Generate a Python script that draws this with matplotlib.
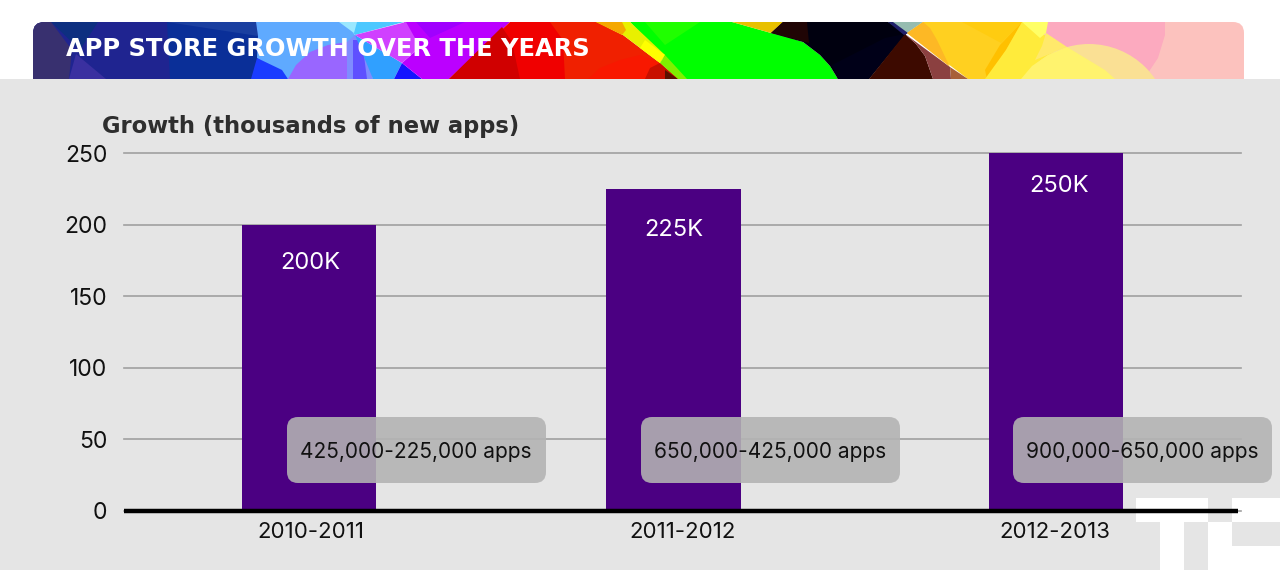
import matplotlib
matplotlib.use('Agg')
import matplotlib.pyplot as plt
from matplotlib.patches import Polygon, Rectangle, FancyBboxPatch, Circle

periods = ['2010-2011', '2011-2012', '2012-2013']
growth = [200, 225, 250]
growth_labels = ['200K', '225K', '250K']
app_ranges = ['425,000-225,000 apps', '650,000-425,000 apps', '900,000-650,000 apps']
y_ticks = [0, 50, 100, 150, 200, 250]

W, H = 1280, 570
plt.rcParams['font.family'] = ['Inter', 'DejaVu Sans']

fig = plt.figure(figsize=(W / 100, H / 100), dpi=100, facecolor='white')

# background layer, in pixels
bg = fig.add_axes([0, 0, 1, 1], zorder=0)
bg.set_xlim(0, W)
bg.set_ylim(H, 0)
bg.axis('off')

clip = FancyBboxPatch((33, 22), 1211, 90, boxstyle='round,pad=0,rounding_size=11',
                      transform=bg.transData, fc='none', ec='none')
bg.add_patch(clip)

# banner artwork, painted back to front
shapes = [
    # blues on the left
    ('#1f2490', [(33, 22), (260, 22), (260, 79), (33, 79)]),
    ('#0a2f98', [(167, 22), (258, 35), (257, 58), (251, 79), (170, 79)]),
    ('#1a3fa0', [(167, 22), (256, 22), (258, 36)]),
    ('#0d2f80', [(51, 22), (98, 22), (80, 50)]),
    ('#38306f', [(33, 22), (51, 22), (72, 50), (69, 79), (33, 79)]),
    ('#3a30a0', [(69, 79), (76, 54), (106, 79)]),
    # light blue and lilac
    ('#5faaff', [(256, 22), (345, 22), (355, 35), (373, 79), (288, 79), (257, 58), (258, 36)]),
    ('#1a3cff', [(251, 79), (257, 58), (282, 70), (288, 79)]),
    ('#9966ff', [(288, 79), (296, 65), (310, 52), (328, 45), (347, 42), (347, 79)]),
    ('#4cc8ff', [(327, 22), (404, 22), (355, 35), (345, 22)]),
    ('#9ae8ff', [(339, 22), (357, 22), (354, 33)]),
    ('#7f8cff', [(347, 42), (355, 35), (365, 45), (373, 79), (347, 79)]),
    ('#5f50ff', [(353, 40), (362, 40), (367, 79), (353, 79)]),
    ('#30a0ff', [(355, 35), (402, 63), (394, 79), (373, 79)]),
    ('#1414ff', [(394, 79), (402, 63), (422, 79)]),
    # violet
    ('#bb00ff', [(404, 22), (510, 22), (449, 79), (422, 79), (402, 63), (420, 47)]),
    ('#d040ff', [(355, 35), (406, 22), (420, 47), (402, 63)]),
    ('#a000ff', [(416, 22), (465, 22), (430, 38)]),
    # reds
    ('#f00000', [(449, 79), (510, 22), (600, 22), (680, 79)]),
    ('#d00000', [(449, 79), (502, 27), (512, 42), (520, 79)]),
    ('#f02000', [(565, 79), (563, 40), (550, 22), (596, 22), (623, 35), (660, 63), (678, 79)]),
    ('#f81800', [(588, 79), (600, 68), (620, 60), (640, 55), (660, 63), (678, 79)]),
    ('#c81000', [(645, 79), (650, 68), (660, 63), (678, 79)]),
    ('#5a1000', [(665, 70), (678, 79), (665, 79)]),
    # green
    ('#00ff00', [(630, 22), (732, 22), (771, 33), (790, 38), (803, 42), (820, 55), (830, 66),
                 (838, 79), (685, 79), (664, 58)]),
    ('#20ff00', [(645, 22), (700, 22), (665, 45)]),
    ('#e8c000', [(732, 22), (783, 22), (771, 33)]),
    # yellow strip along the red edge
    ('#e8f000', [(596, 22), (630, 22), (665, 55), (660, 63), (623, 35)]),
    ('#f5a800', [(596, 22), (622, 22), (626, 30), (622, 35)]),
    ('#ffff00', [(645, 40), (665, 55), (660, 63), (640, 48)]),
    ('#80f000', [(665, 55), (687, 79), (678, 79), (660, 63)]),
    # dark middle
    ('#00000f', [(783, 22), (889, 22), (907, 33), (869, 79), (838, 79), (830, 66), (820, 55),
                 (803, 42), (771, 33)]),
    ('#200505', [(771, 33), (783, 22), (807, 22), (809, 43)]),
    ('#000018', [(832, 65), (885, 38), (905, 34), (869, 79), (838, 79)]),
    # yellows on the right
    ('#ffd020', [(907, 33), (923, 22), (1030, 22), (1030, 79), (968, 79)]),
    ('#3d0a00', [(869, 79), (905, 34), (916, 44), (925, 56), (933, 79)]),
    ('#8b4040', [(905, 34), (950, 67), (951, 79), (933, 79), (925, 56), (916, 44)]),
    ('#a86038', [(950, 67), (968, 79), (951, 79)]),
    ('#96bcb0', [(888, 22), (923, 22), (907, 33)]),
    ('#20206a', [(888, 22), (893, 22), (908, 33), (904, 35)]),
    ('#fdb825', [(907, 33), (923, 22), (930, 28), (937, 40), (948, 63), (950, 67)]),
    ('#ffcc10', [(962, 22), (1022, 22), (1001, 43)]),
    ('#ffc000', [(1022, 22), (1006, 50), (987, 79), (985, 70), (1000, 45)]),
    # pinks
    ('#fcc2be', [(1040, 22), (1244, 22), (1244, 79), (1040, 79)]),
    ('#fcaabf', [(1040, 22), (1165, 22), (1165, 35), (1158, 58), (1150, 70), (1144, 79),
                 (1110, 79), (1060, 47), (1046, 33)]),
    ('#ffeb3b', [(1022, 22), (1105, 70), (1115, 79), (985, 79), (1006, 50)]),
    ('#ffff66', [(1022, 22), (1048, 22), (1046, 33), (1040, 38)]),
    ('#ffe96b', [(1046, 33), (1067, 47), (1035, 60), (1042, 46)]),
]
for color, pts in shapes:
    p = Polygon(pts, closed=True, fc=color, ec='none')
    bg.add_patch(p)
    p.set_clip_path(clip)

# pale disc at the right of the banner, with the yellow showing over it
disc = Circle((1089, 124), 80, fc='#fae094', ec='none')
bg.add_patch(disc)
disc.set_clip_path(clip)
cap = Polygon([(1021, 79), (1032, 66), (1048, 55), (1067, 47), (1105, 70), (1115, 79)],
              fc='#fff36e', ec='none')
bg.add_patch(cap)
cap.set_clip_path(clip)

# grey panel and white logo
bg.add_patch(Rectangle((0, 79), W, H - 79, fc='#e5e5e5', ec='none'))
for x, y, w, h in [(1136, 498, 72, 24), (1160, 522, 24, 48), (1232, 498, 48, 24),
                   (1208, 522, 24, 48), (1232, 546, 48, 24)]:
    bg.add_patch(Rectangle((x, y), w, h, fc='white', ec='none'))

bg.text(66, 49, 'APP STORE GROWTH OVER THE YEARS', color='white', fontsize=17.4,
        fontweight='bold', family='DejaVu Sans', ha='left', va='center')

# chart
left, right, top, bottom = 124, 1241, 153, 510.5
ax = fig.add_axes([left / W, 1 - bottom / H, (right - left) / W, (bottom - top) / H], zorder=1)
ax.patch.set_alpha(0)
ax.set_xlim(left, right)
ax.set_ylim(0, 250)

bar_centers = [309, 673.5, 1056]
tick_centers = [311, 682.5, 1054.5]
label_centers = [310, 673.5, 1059]
label_drops = [28, 30, 24]

ax.bar(bar_centers, growth, width=134.5, color='#4b0082', zorder=3)
ax.set_axisbelow(True)
ax.yaxis.grid(True, color='#a0a0a0', linewidth=1.2)
for gl in ax.get_ygridlines():
    gl.set_clip_on(False)
ax.xaxis.grid(False)
for side in ['top', 'right', 'left', 'bottom']:
    ax.spines[side].set_visible(False)
ax.plot([left, 1238], [0, 0], color='black', linewidth=3.2, clip_on=False, zorder=4,
        solid_capstyle='butt')

ax.set_yticks(y_ticks)
ax.set_xticks(tick_centers)
ax.set_xticklabels(periods)
ax.tick_params(axis='x', length=0, labelsize=16, labelcolor='#111111', pad=8)
ax.tick_params(axis='y', length=0, labelsize=16.5, labelcolor='#111111', pad=12)

for x, v, s, d in zip(label_centers, growth, growth_labels, label_drops):
    ax.annotate(s, (x, v), xytext=(0, -d), textcoords='offset points', color='white',
                fontsize=17, ha='center', va='center', zorder=5)

ax.text(102, 126, 'Growth (thousands of new apps)', transform=bg.transData, color='#2e2e2e',
        fontsize=16.3, fontweight='bold', family='DejaVu Sans', ha='left', va='center')

# translucent notes over the bars
over = fig.add_axes([0, 0, 1, 1], zorder=2)
over.set_xlim(0, W)
over.set_ylim(H, 0)
over.axis('off')
over.patch.set_alpha(0)
for x0, x1, tx, s in zip([287, 641, 1013], [546, 900, 1272], [416, 770, 1142], app_ranges):
    over.add_patch(FancyBboxPatch((x0, 417), x1 - x0, 66, boxstyle='round,pad=0,rounding_size=11',
                                  fc='#b3b3b3', ec='none', alpha=0.89))
    over.text(tx, 452.5, s, color='#111111', fontsize=15, ha='center', va='center')

fig.savefig('out.png', dpi=100, facecolor='white')
